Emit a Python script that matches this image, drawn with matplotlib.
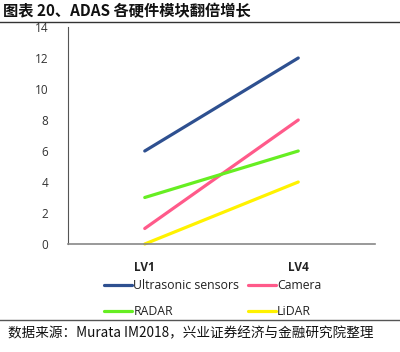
import matplotlib
matplotlib.use("Agg")
import matplotlib.pyplot as plt
from matplotlib.lines import Line2D

plt.rcParams['font.family'] = ['Noto Sans CJK SC', 'DejaVu Sans']

categories = ["LV1", "LV4"]
series_names = ["Ultrasonic sensors", "Camera", "RADAR", "LiDAR"]
ultrasonic = [6, 12]
camera = [1, 8]
radar = [3, 6]
lidar = [0, 4]
yticks = [0, 2, 4, 6, 8, 10, 12, 14]
title = "图表 20、ADAS 各硬件模块翻倍增长"
source = "数据来源：Murata IM2018，兴业证券经济与金融研究院整理"

colors = ["#2E5090", "#FF5A8A", "#66EE22", "#FFF200"]
values = [ultrasonic, camera, radar, lidar]

W, H = 400, 352
fig = plt.figure(figsize=(W / 100, H / 100), dpi=100)
ax = fig.add_axes([68 / W, 1 - 244 / H, (375 - 68) / W, (244 - 27) / H])

x = list(range(len(categories)))
handles = []
for name, vals, c in zip(series_names, values, colors):
    ln, = ax.plot(x, vals, color=c, lw=2.3, solid_capstyle='round', label=name, clip_on=False)
    handles.append(ln)

ax.set_xlim(-0.5, 1.5)
ax.set_ylim(0, 14)
ax.set_yticks(yticks)
ax.set_yticklabels([str(v) for v in yticks], fontfamily=['Open Sans', 'DejaVu Sans'], fontsize=8.5, color='#333333')
ax.set_xticks(x)
ax.set_xticklabels(categories, fontfamily=['Open Sans', 'DejaVu Sans'], fontsize=8.5, fontweight='bold', color='#222222')
ax.tick_params(axis='y', length=0, pad=14)
ax.tick_params(axis='x', length=0, pad=12)
for s in ['top', 'right']:
    ax.spines[s].set_visible(False)
ax.spines['left'].set_color('#555555')
ax.spines['bottom'].set_color('#888888')
ax.spines['left'].set_linewidth(0.8)
ax.spines['bottom'].set_linewidth(1.2)

order = [0, 2, 1, 3]
leg = fig.legend([handles[i] for i in order], [series_names[i] for i in order],
                 ncol=2, frameon=False, loc='upper left', bbox_to_anchor=(104 / W, 1 - 279 / H),
                 prop={'family': ['Open Sans', 'DejaVu Sans'], 'size': 8.8},
                 handlelength=2.3, handletextpad=0.1, columnspacing=0.7, labelspacing=1.05,
                 borderpad=0, borderaxespad=0)
for t in leg.get_texts():
    t.set_color('#222222')

fig.text(3 / W, 1 - 11 / H, title, fontsize=11, fontweight='bold', va='center', ha='left', color='#111111')
fig.text(8 / W, 1 - 333 / H, source, fontsize=9.8, va='center', ha='left', color='#111111')

fig.add_artist(Line2D([0, 1], [1 - 22 / H, 1 - 22 / H], transform=fig.transFigure, color='#333333', lw=1.0))
fig.add_artist(Line2D([0, 1], [1 - 320 / H, 1 - 320 / H], transform=fig.transFigure, color='#555555', lw=1.0))

fig.savefig("out.png", dpi=100)
